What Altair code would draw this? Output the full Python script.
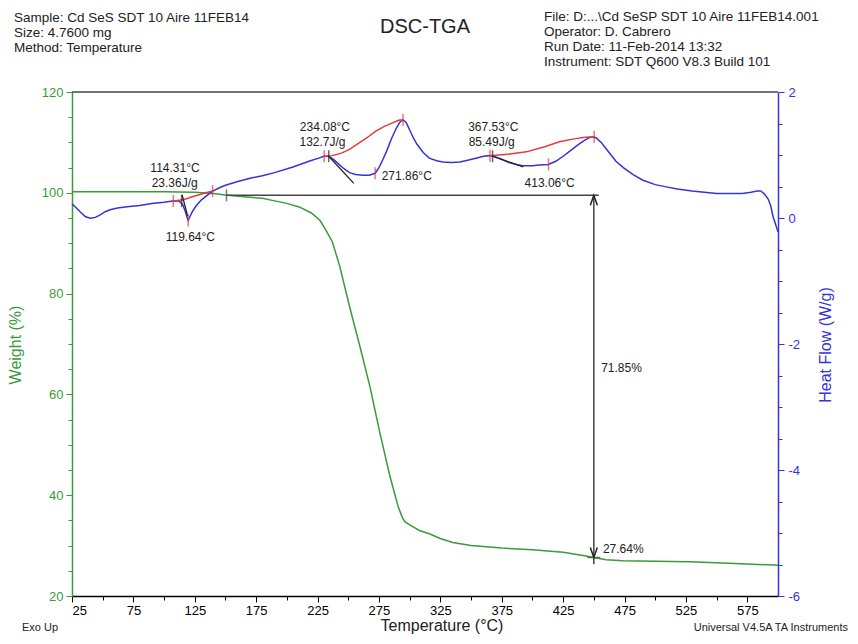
import altair as alt
import pandas as pd

FONT = "Liberation Sans"
GREEN = "#3a9b3a"
BLUE = "#3434d6"
RED = "#e8383d"
GREY = "#444444"

# ---------------- data ----------------
dsc_temp = [25, 28, 32, 36, 40, 44, 48, 52, 56, 62,
            70, 80, 90, 100, 107, 112, 115, 117, 119.6, 121,
            123, 126, 130, 135, 140, 145, 150, 160, 170, 180,
            190, 205, 218, 226, 230, 234, 238, 242, 246, 251,
            256, 262, 267, 271.9, 275, 278, 281, 285, 289, 292,
            294.6, 297, 300, 303, 306, 311, 316, 322, 327, 334,
            341, 348, 354, 360, 365, 368, 374, 381, 387, 392,
            400, 406, 413, 419, 425, 431, 437, 443, 447, 449.5,
            452, 456, 460, 464, 468, 474, 482, 490, 500, 510,
            518, 530, 540, 550, 560, 571, 578, 583, 586, 589,
            592, 594, 596, 598, 600]
dsc_hf = [0.22, 0.17, 0.09, 0.02, -0.005, 0.01, 0.05, 0.10, 0.13, 0.16,
          0.18, 0.20, 0.23, 0.25, 0.27, 0.27, 0.22, 0.12, -0.04, 0.02,
          0.10, 0.19, 0.28, 0.36, 0.43, 0.48, 0.52, 0.58, 0.63, 0.67,
          0.72, 0.81, 0.90, 0.95, 0.98, 0.98, 0.93, 0.86, 0.79, 0.72,
          0.69, 0.68, 0.68, 0.71, 0.80, 0.92, 1.05, 1.25, 1.42, 1.52,
          1.56, 1.52, 1.40, 1.27, 1.17, 1.04, 0.95, 0.91, 0.89, 0.88,
          0.89, 0.92, 0.95, 0.98, 0.99, 0.98, 0.94, 0.88, 0.85, 0.83,
          0.83, 0.84, 0.85, 0.90, 0.98, 1.07, 1.16, 1.24, 1.28, 1.29,
          1.27, 1.20, 1.10, 1.00, 0.90, 0.80, 0.69, 0.60, 0.53, 0.49,
          0.46, 0.43, 0.41, 0.39, 0.39, 0.39, 0.41, 0.43, 0.43, 0.38,
          0.30, 0.20, 0.02, -0.10, -0.22]

tga_temp = [25, 50, 100, 125, 140, 150, 165, 180, 190, 200,
            210, 220, 227, 232, 237, 243, 251, 259.5, 267.7, 275.8,
            284, 290.7, 294, 296.2, 300, 308, 316.5, 325, 335, 350,
            375, 400, 425, 440, 450, 460, 474, 500, 528, 560,
            596, 600]
tga_wt = [100.2, 100.2, 100.2, 100.1, 99.85, 99.55, 99.2, 98.9, 98.4, 97.9,
          97.2, 96.0, 94.5, 92.5, 90.3, 85.5, 77.5, 69.5, 61.5, 52.3,
          43.7, 37.7, 35.6, 34.7, 34.1, 33.0, 32.3, 31.4, 30.6, 30.0,
          29.5, 29.2, 28.7, 28.1, 27.64, 27.2, 27.0, 26.9, 26.8, 26.5,
          26.15, 26.1]

# integration baselines (red)
base_seg = ["p1"] * 5 + ["p2"] * 11 + ["p3"] * 8
base_temp = [107.5, 115.6, 123.7, 131.9, 139.5,
             230.4, 237, 244.5, 251, 258, 265, 271.8, 279, 286, 291, 294.6,
             365.4, 380, 395, 410, 422, 435, 443, 450.3]
base_hf = [0.27, 0.29, 0.34, 0.39, 0.43,
           0.98, 0.99, 1.03, 1.09, 1.18, 1.27, 1.37, 1.45, 1.51, 1.55, 1.56,
           0.99, 1.01, 1.05, 1.13, 1.21, 1.26, 1.28, 1.29]

# onset tangents (black)
tan_seg = ["t1", "t1", "t2", "t2", "t3", "t3"]
tan_temp = [114.6, 119.2, 234.08, 254.5, 367.53, 392.5]
tan_hf = [0.37, 0.03, 0.98, 0.55, 0.98, 0.81]

# cursor ticks
red_tick_temp = [107.5, 139.5, 119.64, 230.4, 294.6, 271.86, 365.4, 450.3, 413.06]
red_tick_hf = [0.27, 0.43, -0.04, 0.98, 1.56, 0.71, 0.99, 1.29, 0.85]
blk_tick_temp = [114.31, 234.08, 367.53]
blk_tick_hf = [0.27, 0.98, 0.98]

# DSC labels
lab_text = ["114.31°C", "23.36J/g", "119.64°C", "234.08°C", "132.7J/g",
            "367.53°C", "85.49J/g", "413.06°C"]
lab_temp = [108.9, 108.6, 121.4, 231.0, 229.0, 368.1, 366.8, 414.0]
lab_hf = [0.79, 0.56, -0.30, 1.45, 1.21, 1.45, 1.21, 0.56]
lab2_text = ["271.86°C"]
lab2_temp = [277.2]
lab2_hf = [0.67]

# weight-step analysis
step_start, step_end, step_arrow = 150.8, 454.0, 450.0
step_top, step_bottom, step_low = 99.49, 27.64, 26.3
wlab_text = ["71.85%", "27.64%"]
wlab_temp = [456.0, 457.4]
wlab_wt = [65.2, 29.3]

header_left = ["Sample: Cd SeS SDT 10 Aire 11FEB14", "Size:  4.7600 mg",
               "Method: Temperature"]
header_right = ["File: D:...\\Cd SeSP SDT 10 Aire 11FEB14.001",
                "Operator: D. Cabrero", "Run Date: 11-Feb-2014 13:32",
                "Instrument: SDT Q600 V8.3 Build 101"]

# ---------------- scales / axes ----------------
x_scale = alt.Scale(domain=[25, 600], nice=False, zero=False)
w_scale = alt.Scale(domain=[20, 120], nice=False, zero=False)
h_scale = alt.Scale(domain=[-6, 2], nice=False, zero=False)

x_axis = alt.Axis(values=list(range(25, 600, 25)), title=None, grid=False,
                  labelExpr="datum.value % 50 === 25 ? datum.label : ''",
                  tickSize={"condition": {"test": "datum.value % 50 === 25", "value": 6}, "value": 4},
                  domainColor="black", tickColor="black", labelColor="black",
                  domainWidth=1.5, labelPadding=2, labelFontSize=13, labelFont=FONT)
w_axis = alt.Axis(orient="left", values=list(range(20, 121, 5)), title=None, grid=False,
                  labelExpr="datum.value % 20 === 0 ? datum.label : ''",
                  tickSize={"condition": {"test": "datum.value % 20 === 0", "value": 6}, "value": 4},
                  domainColor=GREEN, tickColor=GREEN, labelColor=GREEN,
                  domainWidth=1.5, labelPadding=3, labelFontSize=13, labelFont=FONT)
h_axis = alt.Axis(orient="right", values=[-6 + 0.5 * i for i in range(17)], title=None, grid=False,
                  labelExpr="datum.value % 2 === 0 ? '' + datum.value : ''",
                  tickSize={"condition": {"test": "datum.value % 2 === 0", "value": 6}, "value": 4},
                  domainColor=BLUE, tickColor=BLUE, labelColor=BLUE,
                  domainWidth=1.5, labelPadding=4, labelFontSize=13, labelFont=FONT)


def X(f):
    return alt.X(f"{f}:Q", scale=x_scale, axis=x_axis)


def YW(f):
    return alt.Y(f"{f}:Q", scale=w_scale, axis=w_axis)


def YH(f):
    return alt.Y(f"{f}:Q", scale=h_scale, axis=h_axis)


# ---------------- weight group ----------------
tga = pd.DataFrame({"T": tga_temp, "W": tga_wt})
tga_line = alt.Chart(tga).mark_line(color=GREEN, strokeWidth=1.5).encode(x=X("T"), y=YW("W"))

frame = alt.Chart(pd.DataFrame({"T": [25], "T2": [600], "W": [120]})).mark_rule(
    color=GREY, strokeWidth=1.5).encode(x=X("T"), x2="T2:Q", y=YW("W"))

hline = alt.Chart(pd.DataFrame({"T": [step_start], "T2": [step_end], "W": [step_top]})).mark_rule(
    color=GREY, strokeWidth=1.5).encode(x=X("T"), x2="T2:Q", y=YW("W"))
vline = alt.Chart(pd.DataFrame({"T": [step_arrow], "W": [step_top], "W2": [step_low]})).mark_rule(
    color=GREY, strokeWidth=1.5).encode(x=X("T"), y=YW("W"), y2="W2:Q")
arrow_up = alt.Chart(pd.DataFrame({"T": [step_arrow], "W": [step_top]})).mark_point(
    shape="M -0.7 2 L 0 0 L 0.7 2", filled=False, size=100, color="#222", strokeWidth=1.5,
    opacity=1).encode(x=X("T"), y=YW("W"))
arrow_dn = alt.Chart(pd.DataFrame({"T": [step_arrow], "W": [step_bottom]})).mark_point(
    shape="M -0.7 -2 L 0 0 L 0.7 -2", filled=False, size=100, color="#222", strokeWidth=1.5,
    opacity=1).encode(x=X("T"), y=YW("W"))
start_tick = alt.Chart(pd.DataFrame({"T": [step_start], "W": [step_top]})).mark_tick(
    orient="vertical", size=12, thickness=1.5, color=GREY).encode(x=X("T"), y=YW("W"))
end_tick = alt.Chart(pd.DataFrame({"T": [step_arrow], "W": [step_bottom]})).mark_tick(
    orient="horizontal", size=13, thickness=1.5, color=GREY).encode(x=X("T"), y=YW("W"))
wlabels = alt.Chart(pd.DataFrame({"T": wlab_temp, "W": wlab_wt, "txt": wlab_text})).mark_text(
    align="left", baseline="middle", font=FONT, fontSize=12, color="#222").encode(
    x=X("T"), y=YW("W"), text="txt:N")

weight_group = alt.layer(tga_line, frame, hline, vline, arrow_up, arrow_dn,
                         start_tick, end_tick, wlabels)

# ---------------- heat-flow group ----------------
dsc = pd.DataFrame({"T": dsc_temp, "HF": dsc_hf})
dsc_line = alt.Chart(dsc).mark_line(color=BLUE, strokeWidth=1.5).encode(x=X("T"), y=YH("HF"))

base = pd.DataFrame({"T": base_temp, "HF": base_hf, "seg": base_seg})
base_lines = alt.Chart(base).mark_line(color=RED, strokeWidth=1.5).encode(
    x=X("T"), y=YH("HF"), detail="seg:N")

tan = pd.DataFrame({"T": tan_temp, "HF": tan_hf, "seg": tan_seg})
tan_lines = alt.Chart(tan).mark_line(color="#222", strokeWidth=1.3).encode(
    x=X("T"), y=YH("HF"), detail="seg:N")

red_ticks = alt.Chart(pd.DataFrame({"T": red_tick_temp, "HF": red_tick_hf})).mark_tick(
    orient="vertical", size=12, thickness=1.5, color=RED).encode(x=X("T"), y=YH("HF"))
blk_ticks = alt.Chart(pd.DataFrame({"T": blk_tick_temp, "HF": blk_tick_hf})).mark_tick(
    orient="vertical", size=12, thickness=1.5, color="#222").encode(x=X("T"), y=YH("HF"))

labels_c = alt.Chart(pd.DataFrame({"T": lab_temp, "HF": lab_hf, "txt": lab_text})).mark_text(
    align="center", baseline="middle", font=FONT, fontSize=12, color="#222").encode(
    x=X("T"), y=YH("HF"), text="txt:N")
labels_l = alt.Chart(pd.DataFrame({"T": lab2_temp, "HF": lab2_hf, "txt": lab2_text})).mark_text(
    align="left", baseline="middle", font=FONT, fontSize=12, color="#222").encode(
    x=X("T"), y=YH("HF"), text="txt:N")

heat_group = alt.layer(dsc_line, base_lines, tan_lines, red_ticks, blk_ticks, labels_c, labels_l)


# ---------------- page texts ----------------
def page_text(text, x, y, size=12, align="left", color="#222", angle=0):
    return alt.Chart(alt.InlineData(values=[{}])).mark_text(
        text=text, align=align, baseline="middle", font=FONT, fontSize=size,
        color=color, angle=angle).encode(x=alt.value(x), y=alt.value(y))


texts = []
for i, line in enumerate(header_left):
    texts.append(page_text(line, -58, -74 + 15 * i, size=13.5))
for i, line in enumerate(header_right):
    texts.append(page_text(line, 472, -75.3 + 15 * i, size=13.5))
texts.append(page_text("DSC-TGA", 353, -65, size=20, align="center"))
texts.append(page_text("Weight (%)", -56, 253, size=16, align="center", color=GREEN, angle=270))
texts.append(page_text("Heat Flow (W/g)", 754, 253, size=16, align="center", color=BLUE, angle=270))
texts.append(page_text("Temperature (°C)", 370, 534, size=16, align="center"))
texts.append(page_text("Exo Up", -50, 536, size=11))
texts.append(page_text("Universal V4.5A TA Instruments", 776, 536, size=11, align="right"))

chart = alt.layer(weight_group, heat_group, *texts).resolve_scale(
    y="independent"
).properties(
    width=706, height=504,
    autosize=alt.AutoSizeParams(type="none"),
    padding={"left": 64, "top": 84, "right": 72, "bottom": 40},
).configure_view(stroke=None)

chart.save("out.html", embed_options={"renderer": "svg", "actions": False})
